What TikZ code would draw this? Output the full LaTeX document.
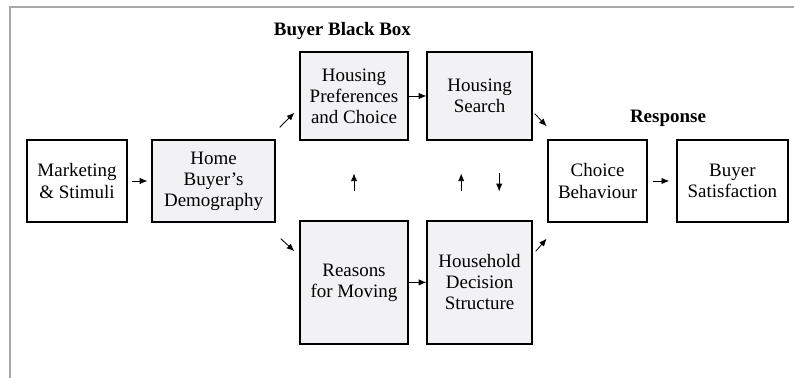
\documentclass[tikz,border=0pt]{standalone}
\usepackage{fontspec}
\setmainfont{Liberation Serif}
\usetikzlibrary{
    arrows.meta,
    calc,
    positioning
}
\definecolor{boxfill}{HTML}{F2F2F4}
\definecolor{framegray}{HTML}{A8A8A8}
\tikzset{boxw/.style={draw=black, line width=0.9pt, fill=white, minimum height=2.05cm, inner sep=0pt, align=center, font=\fontsize{13.5}{15}\selectfont}}
\tikzset{boxg/.style={boxw, fill=boxfill}}
\tikzset{arr/.style={-{Latex[length=5.5pt,width=4.5pt]}, line width=0.6pt}}
\tikzset{ttl/.style={font=\fontsize{13.5}{15}\selectfont\bfseries}}

\begin{document}
\begin{tikzpicture}
    \useasboundingbox (0, 0) rectangle (19.85, 9.45);
    \draw[framegray, line width=1pt] (19.85, 9.275) -- (0.25, 9.275) -- (0.25, 0);

    \node[boxw, minimum width=2.5cm] (mkt) at (1.925, 4.925) {Marketing\\\& Stimuli};
    \node[boxg, minimum width=3.075cm] (home) at (5.34, 4.925) {Home\\Buyer's\\Demography};
    \node[boxg, minimum width=2.7cm, minimum height=2.2cm] (hpc) at (8.85, 7.05) {Housing\\Preferences\\and Choice};
    \node[boxg, minimum width=2.625cm, minimum height=2.2cm] (srch) at (11.99, 7.05) {Housing\\Search};
    \node[boxg, minimum width=2.7cm, minimum height=3.075cm] (rsn) at (8.85, 2.39) {Reasons\\for Moving};
    \node[boxg, minimum width=2.625cm, minimum height=3.075cm] (hds) at (11.99, 2.39) {Household\\Decision\\Structure};
    \node[boxw, minimum width=2.475cm] (chc) at (14.94, 4.925) {Choice\\Behaviour};
    \node[boxw, minimum width=2.775cm] (sat) at (18.31, 4.925) {Buyer\\Satisfaction};

    \node[ttl] (bbb) at (8.56, 8.675) {Buyer Black Box};
    \node[ttl] (resp) at (16.7, 6.5) {Response};

    \path[arr]
    (hpc) edge (srch)
    (rsn) edge (hds)
    ($(home.north east)+(0.1, 0.3)$) edge ($(hpc.south west)+(-0.125, 0.7)$)
    ($(home.south east)+(0.125, -0.4)$) edge ($(rsn.north west)+(-0.125, -0.775)$)
    ($(srch.south east)+(0.05, 0.675)$) edge ($(chc.north west)+(-0.02, 0.325)$)
    ($(hds.north east)+(0.075, -0.775)$) edge ($(chc.south west)+(-0.02, -0.4)$)
    (mkt) edge[shorten <=0.1cm, shorten >=0.1cm] (home)
    (chc) edge[shorten <=0.125cm, shorten >=0.175cm] (sat)
    (rsn) edge[shorten <=0.72cm, shorten >=0.82cm] (hpc)
    ([xshift=-0.46cm]hds.north) edge[shorten <=0.72cm, shorten >=0.82cm] ([xshift=-0.46cm]srch.south)
    ([xshift=0.49cm]srch.south) edge[shorten <=0.82cm, shorten >=0.72cm] ([xshift=0.49cm]hds.north);
\end{tikzpicture}
\end{document}
